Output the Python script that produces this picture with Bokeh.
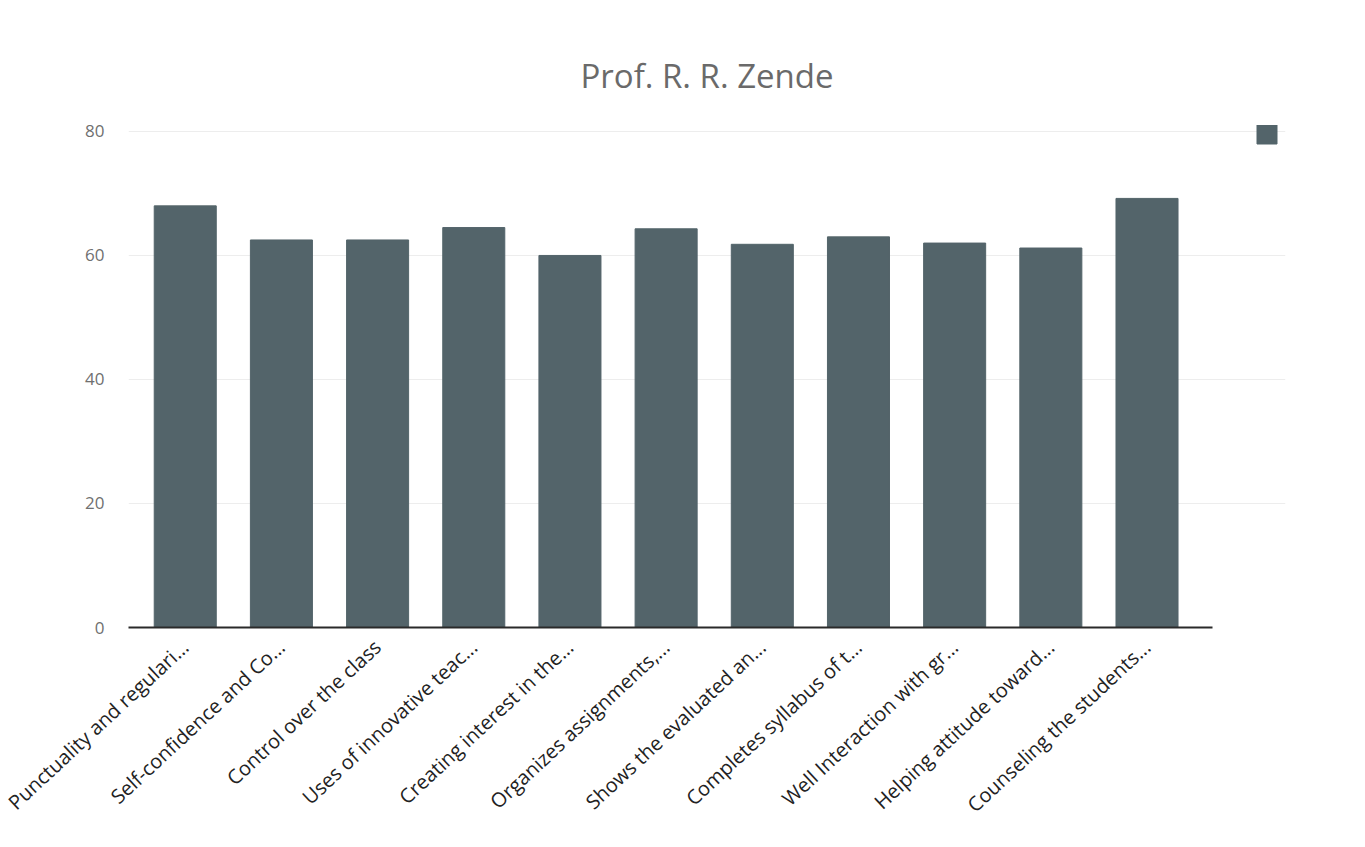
from bokeh.plotting import figure
from bokeh.models import ColumnDataSource, Range1d, FixedTicker, Legend, LegendItem
from bokeh.embed import file_html
from bokeh.resources import INLINE

categories = [
    "Punctuality and regulari...",
    "Self-confidence and Co...",
    "Control over the class",
    "Uses of innovative teac...",
    "Creating interest in the...",
    "Organizes assignments,...",
    "Shows the evaluated an...",
    "Completes syllabus of t...",
    "Well Interaction with gr...",
    "Helping attitude toward...",
    "Counseling the students...",
]
values = [68, 62.5, 62.5, 64.5, 60, 64.3, 61.8, 63, 62, 61.2, 69.2]
y_ticks = [0, 20, 40, 60, 80]

BAR = "#53646a"

idx = list(range(len(categories)))
src = ColumnDataSource(dict(x=idx, cat=categories, val=values))

p = figure(
    width=1349, height=830,
    x_range=Range1d(-0.59, 11.44),
    y_range=Range1d(0, 80.96),
    output_backend="svg", toolbar_location=None,
    min_border_left=128, min_border_right=64,
    min_border_top=125, min_border_bottom=202,
    title="Prof. R. R. Zende",
)
p.title.align = "center"
p.title.text_font = "Open Sans"
p.title.text_font_size = "33px"
p.title.text_font_style = "normal"
p.title.text_color = "#6a6a6a"
p.title.offset = -13
p.title.standoff = 55

r = p.vbar(x="x", top="val", width=0.645, source=src,
           fill_color=BAR, line_color=BAR)

p.outline_line_color = None
p.xgrid.grid_line_color = None
p.ygrid.grid_line_color = "#ededed"
p.ygrid.grid_line_width = 1

p.yaxis.ticker = y_ticks
p.yaxis.axis_line_color = None
p.yaxis.major_tick_line_color = None
p.yaxis.minor_tick_line_color = None
p.yaxis.major_label_text_font = "Open Sans"
p.yaxis.major_label_text_font_size = "17px"
p.yaxis.major_label_text_color = "#707070"
p.yaxis.major_label_standoff = 18

p.xaxis.ticker = FixedTicker(ticks=idx)
p.xaxis.major_label_overrides = {i: c for i, c in zip(idx, categories)}
p.xaxis.bounds = (-0.59, 10.68)
p.xaxis.axis_line_color = "#2a2a2a"
p.xaxis.axis_line_width = 2
p.xaxis.major_tick_line_color = None
p.xaxis.minor_tick_line_color = None
p.xaxis.major_label_orientation = 0.75
p.xaxis.major_label_text_font = "Open Sans"
p.xaxis.major_label_text_font_size = "20px"
p.xaxis.major_label_text_color = "#222222"
p.xaxis.major_label_standoff = 10

legend = Legend(items=[LegendItem(label="", renderers=[r])],
                location=(1126, 481),
                glyph_width=25, glyph_height=25,
                padding=0, margin=0, spacing=0,
                label_width=0, label_standoff=0,
                border_line_color=None, background_fill_alpha=0)
p.add_layout(legend)

open("out.html", "w").write(file_html(p, INLINE))
